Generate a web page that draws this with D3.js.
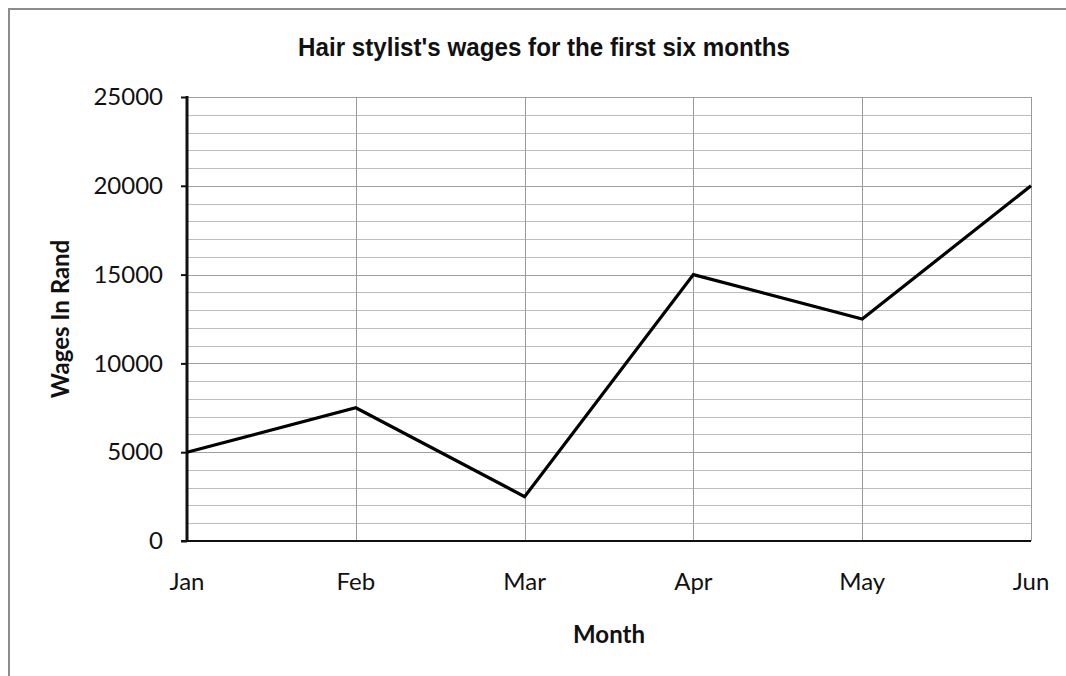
<!DOCTYPE html>
<html>
<head>
<meta charset="utf-8">
<script src="https://cdn.jsdelivr.net/npm/d3@7"></script>
<style>
  body { margin: 0; background: #fff; }
  text { fill: #111; }
</style>
</head>
<body>
<div id="chart"></div>
<script>
// data
const months = ['Jan', 'Feb', 'Mar', 'Apr', 'May', 'Jun'];
const wages = [5000, 7500, 2500, 15000, 12500, 20000];
const yTicks = [0, 5000, 10000, 15000, 20000, 25000];

const dim = {
    width: 1066,
    height: 676,
    margin: { top: 97, right: 35, bottom: 135, left: 187 }
};
const innerW = dim.width - dim.margin.left - dim.margin.right;
const innerH = dim.height - dim.margin.top - dim.margin.bottom;

const labelFont = 'Lato, "Open Sans", sans-serif';

const svg = d3.select('#chart')
    .append('svg')
    .attr('width', dim.width)
    .attr('height', dim.height);

// outer frame (top and left edges visible)
svg.append('path')
    .attr('d', `M9,${dim.height} L9,9 L${dim.width},9`)
    .attr('fill', 'none')
    .attr('stroke', '#8c8c8c')
    .attr('stroke-width', 2);

const g = svg.append('g')
    .attr('transform', `translate(${dim.margin.left}, ${dim.margin.top})`);

// scales
const x = d3.scalePoint()
    .domain(months)
    .range([0, innerW]);

const y = d3.scaleLinear()
    .domain([0, 25000])
    .range([innerH, 0]);

// minor gridlines every 1000
g.append('g')
    .selectAll('line')
    .data(d3.range(1000, 25001, 1000))
    .join('line')
    .attr('x1', 0)
    .attr('x2', innerW)
    .attr('y1', d => Math.round(y(d)) + 0.5)
    .attr('y2', d => Math.round(y(d)) + 0.5)
    .attr('stroke', d => d % 5000 === 0 ? '#a0a0a0' : '#bdbdbd')
    .attr('stroke-width', 1);

// vertical gridlines
g.append('g')
    .selectAll('line')
    .data(months.slice(1))
    .join('line')
    .attr('x1', d => Math.round(x(d)) + 0.5)
    .attr('x2', d => Math.round(x(d)) + 0.5)
    .attr('y1', 0)
    .attr('y2', innerH)
    .attr('stroke', '#9a9a9a')
    .attr('stroke-width', 1);

// y axis
const yAxis = g.append('g')
    .call(d3.axisLeft(y).tickValues(yTicks).tickSize(6).tickPadding(18).tickFormat(d3.format('d')));
yAxis.select('.domain').remove();
yAxis.selectAll('.tick line').attr('stroke', '#111').attr('stroke-width', 2);
yAxis.selectAll('text')
    .style('font-family', labelFont)
    .style('font-size', '24px')
    .attr('fill', '#1a1a1a');

g.append('line')
    .attr('x1', 0).attr('x2', 0)
    .attr('y1', -1).attr('y2', innerH + 1)
    .attr('stroke', '#111')
    .attr('stroke-width', 3);

// x axis
g.append('line')
    .attr('x1', -6).attr('x2', innerW)
    .attr('y1', innerH).attr('y2', innerH)
    .attr('stroke', '#111')
    .attr('stroke-width', 2);

g.append('g')
    .selectAll('text')
    .data(months)
    .join('text')
    .attr('x', d => x(d))
    .attr('y', innerH + 49)
    .attr('text-anchor', 'middle')
    .style('font-family', labelFont)
    .style('font-size', '24px')
    .attr('fill', '#1a1a1a')
    .text(d => d);

// line
const line = d3.line()
    .x((d, i) => x(months[i]))
    .y(d => y(d));

g.append('path')
    .datum(wages)
    .attr('d', line)
    .attr('fill', 'none')
    .attr('stroke', '#000')
    .attr('stroke-width', 3.2)
    .attr('stroke-linejoin', 'miter');

// title and axis labels
svg.append('text')
    .attr('transform', 'translate(544, 56) scale(0.93, 1)')
    .attr('text-anchor', 'middle')
    .style('font-family', '"Liberation Sans Narrow", "Liberation Sans", Arial, sans-serif')
    .style('font-weight', 'bold')
    .style('font-size', '26px')
    .text("Hair stylist's wages for the first six months");

svg.append('text')
    .attr('x', 609)
    .attr('y', 643)
    .attr('text-anchor', 'middle')
    .style('font-family', labelFont)
    .style('font-weight', 'bold')
    .style('font-size', '24px')
    .text('Month');

svg.append('text')
    .attr('transform', 'translate(69, 319) rotate(-90)')
    .attr('text-anchor', 'middle')
    .style('font-family', labelFont)
    .style('font-weight', 'bold')
    .style('font-size', '24px')
    .text('Wages In Rand');
</script>
</body>
</html>
